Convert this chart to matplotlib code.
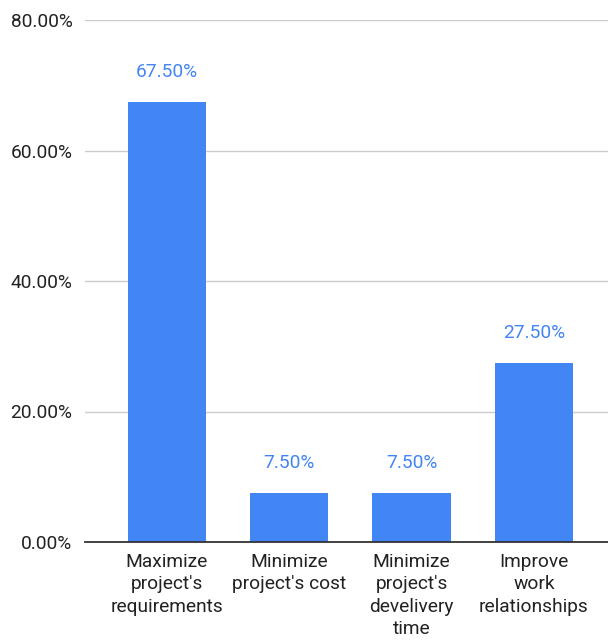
import matplotlib
matplotlib.use("Agg")
import matplotlib.pyplot as plt
from matplotlib.ticker import FuncFormatter

categories = ["Maximize\nproject's\nrequirements", "Minimize\nproject's cost",
              "Minimize\nproject's\ndevelivery\ntime", "Improve\nwork\nrelationships"]
values = [67.5, 7.5, 7.5, 27.5]
yticks = [0, 20, 40, 60, 80]

plt.rcParams['font.family'] = ['Roboto', 'DejaVu Sans']
fs = 13.8
blue = '#4285F4'

fig = plt.figure(figsize=(6.08, 6.40), dpi=100)
ax = fig.add_axes([85/608, 98/640, 1 - 85/608, (542-20)/640])

x = list(range(len(values)))
bars = ax.bar(x, values, width=0.64, color=blue, zorder=3)
for xi, v in zip(x, values):
    ax.annotate(f"{v:.2f}%", (xi, v), xytext=(0, 18), textcoords='offset points',
                ha='center', va='baseline', color=blue, fontsize=fs)

ax.set_ylim(0, 80)
ax.set_xlim(-0.67, 3.605)
ax.set_yticks(yticks)
ax.yaxis.set_major_formatter(FuncFormatter(lambda v, p: f"{v:.2f}%"))
ax.set_xticks(x)
ax.set_xticklabels(categories, fontsize=fs, linespacing=1.3, color='#222222')
ax.tick_params(axis='y', length=0, pad=9, labelsize=fs, labelcolor='#222222')
ax.tick_params(axis='x', length=0, pad=8)
ax.grid(axis='y', color='#cccccc', linewidth=1, zorder=0)
for s in ['top', 'right', 'left']:
    ax.spines[s].set_visible(False)
ax.spines['bottom'].set_color('#333333')
ax.spines['bottom'].set_linewidth(1.3)
ax.spines['bottom'].set_zorder(4)

fig.savefig("out.png", dpi=100)
